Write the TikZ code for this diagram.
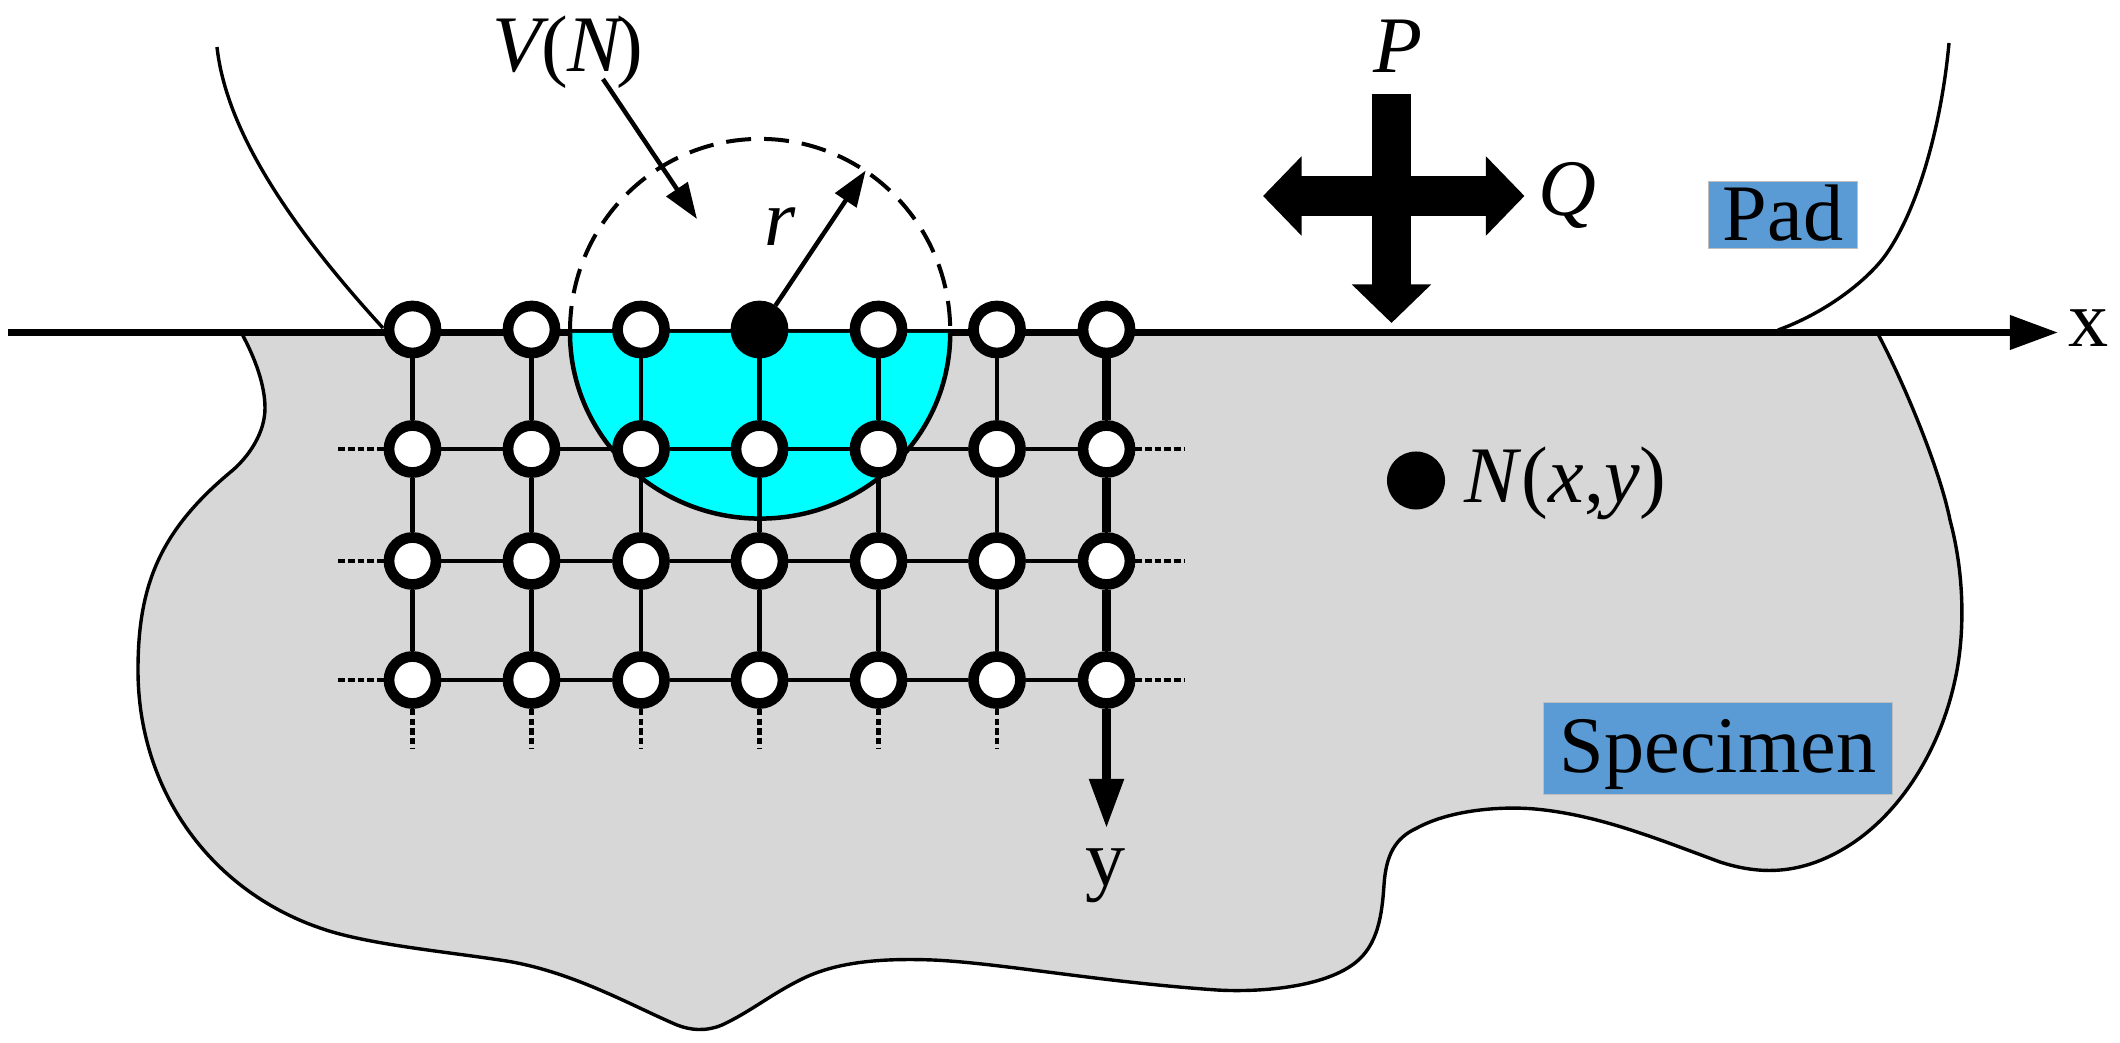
\documentclass[tikz,border=0pt]{standalone}
\usepackage{fontspec}
\setmainfont{Liberation Serif}
\usepackage{tikz}
\usetikzlibrary{arrows.meta}
\definecolor{specgray}{HTML}{D7D7D7}
\definecolor{labelblue}{HTML}{5B9BD5}
\definecolor{labeledge}{HTML}{BFBFBF}
\definecolor{zonecyan}{HTML}{00FFFF}
\tikzset{>={Triangle[length=.36cm,width=.25cm]}}
\tikzset{
  site/.style={circle,draw=black,fill=white,line width=.107cm,minimum size=.47cm,inner sep=0pt},
  lbl/.style={font=\fontsize{22.8pt}{24pt}\selectfont,inner sep=0pt,anchor=base},
  tag/.style={lbl,fill=labelblue,draw=labeledge,line width=.01cm,align=center},
  outline/.style={line width=.034cm,line join=round},
  thin link/.style={line width=.045cm},
  thick link/.style={line width=.083cm},
  dotted link/.style={line width=.045cm,dash pattern=on .065cm off .032cm},
  load/.style={line width=.39cm,-{Triangle[length=.385cm,width=.77cm]}}
}
\begin{document}
\begin{tikzpicture}[x=0.01cm,y=-0.01cm]
    \useasboundingbox (0,0) rectangle (2120,1043);
    % specimen
    \draw[outline,fill=specgray] (242,334)
      .. controls (255,358) and (265,385) .. (265,408)
      .. controls (265,432) and (250,455) .. (233,470)
      .. controls (160,530) and (138,585) .. (138,670)
      .. controls (138,790) and (210,890) .. (320,928)
      .. controls (365,944) and (440,951) .. (500,960)
      .. controls (570,970) and (630,1005) .. (677,1025)
      .. controls (690,1030) and (705,1032) .. (722,1025)
      .. controls (750,1012) and (770,995) .. (800,980)
      .. controls (835,962) and (880,958) .. (933,960)
      .. controls (1000,963) and (1100,982) .. (1217,990)
      .. controls (1250,992) and (1320,990) .. (1355,963)
      .. controls (1378,945) and (1382,915) .. (1384,885)
      .. controls (1386,855) and (1395,838) .. (1417,828)
      .. controls (1450,810) and (1500,806) .. (1535,809)
      .. controls (1600,815) and (1660,840) .. (1720,862)
      .. controls (1760,875) and (1800,875) .. (1845,848)
      .. controls (1900,815) and (1940,750) .. (1955,680)
      .. controls (1964,640) and (1966,580) .. (1950,520)
      .. controls (1940,470) and (1905,385) .. (1878,334) -- cycle;
    % axis
    \coordinate (xbeg) at (8,332.5);
    \coordinate (xtip) at (2058,332.5);
    \draw[line width=.07cm,-{Triangle[length=.48cm,width=.33cm]}] (xbeg) -- (xtip);
    \node[lbl] (xlabel) at (2089,347) {x};
    % neighbourhood
    \draw[line width=.045cm,fill=zonecyan] (570,333) arc[start angle=180,end angle=360,x radius=1.9cm,y radius=1.855cm];
    \draw[line width=.04cm,dash pattern=on .25cm off .13cm] (570,331) arc[start angle=180,end angle=0,x radius=1.9cm,y radius=1.92cm];
    % pad
    \draw[outline] (217,47) .. controls (225,120) and (275,210) .. (383,328);
    \draw[outline] (1949,43) .. controls (1942,120) and (1920,205) .. (1887,253)
      .. controls (1870,278) and (1828,312) .. (1778,330);
    % grid
    \foreach \c/\cx/\cf in {0/412.5/white,1/531.5/white,2/641/white,3/759.5/black,4/878.5/white,5/997/white,6/1106.5/white} {
      \node[site,fill=\cf] (n\c0) at (\cx,329.5) {};
      \foreach \r/\ry in {1/449,2/561,3/680} {
        \node[site] (n\c\r) at (\cx,\ry) {};
      }
    }
    \foreach \c in {0,...,5} {
      \draw[thin link] (n\c0) -- (n\c1);
      \draw[thin link] (n\c1) -- (n\c2);
      \draw[thin link] (n\c2) -- (n\c3);
      \draw[dotted link] (n\c3) -- ++(0,69);
    }
    \foreach \r in {1,2,3} {
      \foreach \a/\b in {0/1,1/2,2/3,3/4,4/5,5/6} {
        \draw[thin link] (n\a\r) -- (n\b\r);
      }
      \draw[dotted link] (n0\r) -- ++(-77,0);
      \draw[dotted link] (n6\r) -- ++(78,0);
    }
    \coordinate (ytip) at (1106.5,828);
    \draw[thick link] (n60) -- (n61);
    \draw[thick link] (n61) -- (n62);
    \draw[thick link] (n62) -- (n63);
    \draw[thick link,-{Triangle[length=.49cm,width=.33cm]}] (n63) -- (ytip);
    \node[lbl] (ylabel) at (1106,886) {y};
    % radius and volume
    \coordinate (rtip) at (865.7,170.5);
    \draw[thin link,->] (n30) -- (rtip);
    \node[lbl] (rlabel) at (780,246) {\textit{r}};
    \node[lbl] (vlabel) at (568,72) {\textit{V}\kern-.1em(\textit{N}\kern-.1em)};
    \coordinate (vbeg) at (603,79);
    \coordinate (vtip) at (697,219);
    \draw[thin link,->] (vbeg) -- (vtip);
    % loads
    \coordinate (ptop) at (1391.5,94);
    \coordinate (pbot) at (1391.5,323);
    \coordinate (qleft) at (1263,196);
    \coordinate (qright) at (1524.5,196);
    \draw[load] (ptop) -- (pbot);
    \draw[line width=.39cm,{Triangle[length=.385cm,width=.77cm]}-{Triangle[length=.385cm,width=.77cm]}] (qleft) -- (qright);
    \node[lbl] (plabel) at (1398,73) {\textit{P}};
    \node[lbl] (qlabel) at (1567,216) {\textit{Q}};
    % tags
    \node[tag,minimum width=1.48cm,text height=.587cm,text depth=.083cm] (pad) at (1783,240.7) {Pad};
    \node[tag,minimum width=3.49cm,text height=.70cm,text depth=.21cm] (specimen) at (1718,773) {Specimen};
    % point
    \node[circle,fill=black,minimum size=.58cm,inner sep=0pt] (ptn) at (1416,480.5) {};
    \node[lbl,anchor=base west] (nlabel) at (1464,503) {\textit{N}(\textit{x},\textit{y})};
\end{tikzpicture}
\end{document}
